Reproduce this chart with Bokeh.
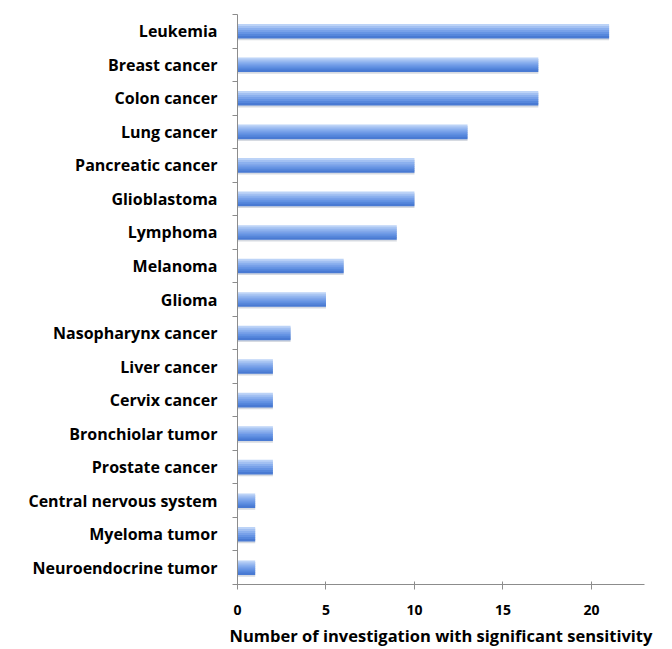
from bokeh.plotting import figure
from bokeh.models import Range1d, FixedTicker
from bokeh.transform import dodge
from bokeh.embed import file_html
from bokeh.resources import INLINE

# categories listed top to bottom as in the chart
cancers = ["Leukemia", "Breast cancer", "Colon cancer", "Lung cancer",
           "Pancreatic cancer", "Glioblastoma", "Lymphoma", "Melanoma",
           "Glioma", "Nasopharynx cancer", "Liver cancer", "Cervix cancer",
           "Bronchiolar tumor", "Prostate cancer", "Central nervous system",
           "Myeloma tumor", "Neuroendocrine tumor"]
counts = [21, 17, 17, 13, 10, 10, 9, 6, 5, 3, 2, 2, 2, 2, 1, 1, 1]
x_ticks = [0, 5, 10, 15, 20]

n = len(cancers)
ypos = [n - i - 0.5 for i in range(n)]
data = dict(y=ypos, right=counts)

p = figure(width=664, height=649, x_range=Range1d(0, 23), y_range=Range1d(0, n),
           output_backend="svg", toolbar_location=None,
           min_border_left=237, min_border_right=20, min_border_top=14, min_border_bottom=64)
p.outline_line_color = None
p.grid.grid_line_color = None
p.background_fill_color = "white"

# soft shadow under each bar
p.hbar(y=dodge("y", -0.05, range=p.y_range), left=0, right="right", height=0.44,
       source=data, fill_color="#8a96a8", fill_alpha=0.35, line_color=None)

# gradient bars, light on top to darker at the bottom (strips overlap to hide seams)
shades = ["#bcd3f7", "#a2c0f2", "#8bb0ee", "#78a1e9", "#6694e4", "#5687dc", "#497ad3"]
offsets = [0.18, 0.12, 0.06, 0.0, -0.06, -0.12, -0.18]
for off, col in zip(offsets, shades):
    p.hbar(y=dodge("y", off, range=p.y_range), left=0, right="right", height=0.075,
           source=data, fill_color=col, line_color=None)

# y axis: names at band centres, separator ticks at band edges
p.yaxis.ticker = FixedTicker(ticks=ypos, minor_ticks=list(range(n + 1)))
p.yaxis.major_label_overrides = {y: name for y, name in zip(ypos, cancers)}
p.yaxis.major_tick_out = 0
p.yaxis.major_tick_in = 0
p.yaxis.minor_tick_out = 5
p.yaxis.minor_tick_in = 0
p.yaxis.minor_tick_line_color = "#8c8c8c"
p.yaxis.axis_line_color = "#8c8c8c"
p.yaxis.major_label_standoff = 15
p.yaxis.major_label_text_font = "Open Sans"
p.yaxis.major_label_text_font_style = "bold"
p.yaxis.major_label_text_font_size = "16px"
p.yaxis.major_label_text_color = "black"

p.xaxis.ticker = FixedTicker(ticks=x_ticks, minor_ticks=[])
p.xaxis.axis_line_color = "#8c8c8c"
p.xaxis.major_tick_line_color = "#8c8c8c"
p.xaxis.major_tick_in = 3
p.xaxis.major_tick_out = 5
p.xaxis.major_label_standoff = 15
p.xaxis.major_label_text_font = "Open Sans"
p.xaxis.major_label_text_font_style = "bold"
p.xaxis.major_label_text_font_size = "14px"
p.xaxis.major_label_text_color = "black"
p.xaxis.axis_label = "Number of investigation with significant sensitivity"
p.xaxis.axis_label_text_font = "Open Sans"
p.xaxis.axis_label_text_font_style = "bold"
p.xaxis.axis_label_text_font_size = "16.5px"
p.xaxis.axis_label_text_color = "black"
p.xaxis.axis_label_standoff = 6

open("out.html", "w").write(file_html(p, INLINE))
